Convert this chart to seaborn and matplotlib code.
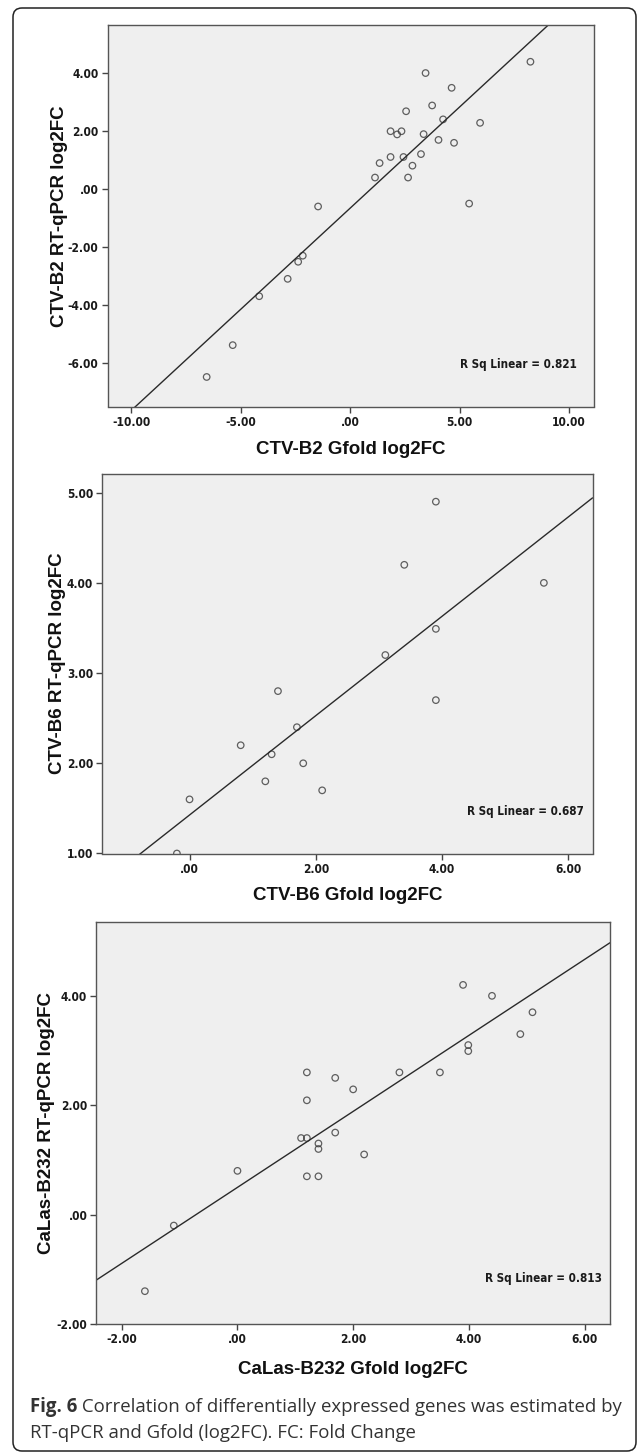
import numpy as np
import pandas as pd
import matplotlib
matplotlib.use("Agg")
import matplotlib.pyplot as plt
import seaborn as sns
from matplotlib.ticker import FuncFormatter, FixedLocator
from matplotlib.patches import FancyBboxPatch
from matplotlib import font_manager

# values
b2_gfold = [8.23, 3.44, 4.63, 3.74, 2.55, 4.24, 5.93, 1.84, 2.34, 2.14, 3.35, 4.03, 4.74, 3.23,
            1.84, 2.43, 1.34, 2.84, 1.13, 2.64, 5.43, -1.47, -2.17, -2.38, -2.86, -4.16, -5.37, -6.56]
b2_qpcr = [4.40, 4.01, 3.50, 2.89, 2.69, 2.41, 2.29, 2.00, 2.00, 1.89, 1.90, 1.70, 1.60, 1.21,
           1.11, 1.11, 0.90, 0.81, 0.40, 0.40, -0.50, -0.60, -2.30, -2.51, -3.10, -3.70, -5.39, -6.49]

b6_gfold = [3.90, 3.40, 5.61, 3.90, 3.10, 1.40, 3.90, 1.70, 0.81, 1.30, 1.80, 1.20, 2.10, 0.00, -0.20]
b6_qpcr = [4.90, 4.20, 4.00, 3.49, 3.20, 2.80, 2.70, 2.40, 2.20, 2.10, 2.00, 1.80, 1.70, 1.60, 1.00]

b232_gfold = [3.90, 4.40, 5.10, 4.89, 3.99, 3.99, 1.20, 2.80, 3.50, 1.69, 2.00, 1.20, 1.69, 1.10,
              1.20, 1.40, 1.40, 2.19, 1.20, 1.40, 0.00, -1.10, -1.60]
b232_qpcr = [4.20, 4.00, 3.70, 3.30, 3.10, 2.99, 2.60, 2.60, 2.60, 2.50, 2.29, 2.09, 1.50, 1.40,
             1.40, 1.30, 1.20, 1.10, 0.70, 0.70, 0.80, -0.20, -1.40]

x_labels = ["CTV-B2 Gfold log2FC", "CTV-B6 Gfold log2FC", "CaLas-B232 Gfold log2FC"]
y_labels = ["CTV-B2 RT-qPCR log2FC", "CTV-B6 RT-qPCR log2FC", "CaLas-B232 RT-qPCR log2FC"]
r2_labels = ["R Sq Linear = 0.821", "R Sq Linear = 0.687", "R Sq Linear = 0.813"]
x_ticks = [[-10, -5, 0, 5, 10], [0, 2, 4, 6], [-2, 0, 2, 4, 6]]
y_ticks = [[-6, -4, -2, 0, 2, 4], [1, 2, 3, 4, 5], [-2, 0, 2, 4]]
caption_bold = "Fig. 6"
caption_1 = " Correlation of differentially expressed genes was estimated by"
caption_2 = "RT-qPCR and Gfold (log2FC). FC: Fold Change"

sns.set_theme(style="ticks")
plt.rcParams["font.family"] = ["Liberation Sans", "DejaVu Sans"]

# condensed bold face for the tick numbers (SPSS uses Arial Narrow)
cond = [f.fname for f in font_manager.fontManager.ttflist
        if "DejaVuSansCondensed-Bold.ttf" in f.fname]
if cond:
    tick_fp = font_manager.FontProperties(fname=cond[0], size=8.6)
    r2_fp = font_manager.FontProperties(fname=cond[0], size=8.4)
else:
    tick_fp = font_manager.FontProperties(family="Liberation Sans", weight="bold", size=8.4)
    r2_fp = font_manager.FontProperties(family="Liberation Sans", weight="bold", size=8.2)

W, H = 637, 1453
fig = plt.figure(figsize=(W / 100, H / 100), dpi=100)

# axes boxes in pixels: left, top, right, bottom
boxes = [(107.5, 25, 593.7, 406.5), (102, 473.7, 592.5, 853.5), (96.3, 922, 610, 1324)]
xlims = [(-11.09, 11.12), (-1.386, 6.38), (-2.44, 6.44)]
ylims = [(-7.51, 5.67), (1.0, 5.21), (-2.0, 5.35)]
r2_pos = [(0.965, 0.109), (0.983, 0.110), (0.984, 0.114)]
xlab_y = [450, 896, 1369.5]
ylab_x = [60, 58, 47]

panels = [(b2_gfold, b2_qpcr), (b6_gfold, b6_qpcr), (b232_gfold, b232_qpcr)]


def spss_fmt(v, pos=None):
    s = f"{v:.2f}"
    if s.startswith("0."):
        s = s[1:]
    return s


for i, (gx, gy) in enumerate(panels):
    l, t, r, b = boxes[i]
    ax = fig.add_axes([l / W, 1 - b / H, (r - l) / W, (b - t) / H])
    ax.set_facecolor("#efefef")
    ax.set_xlim(*xlims[i])
    ax.set_ylim(*ylims[i])
    df = pd.DataFrame({"x": gx, "y": gy})
    sns.regplot(data=df, x="x", y="y", ax=ax, ci=None, truncate=False,
                scatter_kws=dict(s=22, facecolors="none", edgecolors="#3a3a3a", linewidths=0.9),
                line_kws=dict(color="#2a2a2a", lw=1.0))
    ax.set_xlim(*xlims[i])
    ax.set_ylim(*ylims[i])
    ax.xaxis.set_major_locator(FixedLocator(x_ticks[i]))
    ax.yaxis.set_major_locator(FixedLocator(y_ticks[i]))
    ax.xaxis.set_major_formatter(FuncFormatter(spss_fmt))
    ax.yaxis.set_major_formatter(FuncFormatter(spss_fmt))
    ax.tick_params(length=4.5, width=1.0, color="#444444", pad=2, labelcolor="#1a1a1a")
    for lab in ax.get_xticklabels() + ax.get_yticklabels():
        lab.set_fontproperties(tick_fp)
    for sp in ax.spines.values():
        sp.set_visible(True)
        sp.set_color("#555555")
        sp.set_linewidth(1.0)
    ax.set_xlabel("")
    ax.set_ylabel("")
    ax.text(r2_pos[i][0], r2_pos[i][1], r2_labels[i], transform=ax.transAxes,
            ha="right", va="center", fontproperties=r2_fp, color="#1a1a1a")
    fig.text((l + r) / 2 / W, 1 - xlab_y[i] / H, x_labels[i], ha="center", va="center",
             fontsize=13.5, fontweight="bold", color="#111111")
    fig.text(ylab_x[i] / W, 1 - (t + b) / 2 / H, y_labels[i], ha="center", va="center",
             rotation=90, fontsize=13.5, fontweight="bold", color="#111111")

# rounded frame around the figure
frame = FancyBboxPatch((0.13, 0.02), 6.23, 14.43, boxstyle="round,pad=0,rounding_size=0.09",
                       transform=fig.dpi_scale_trans, fill=False, edgecolor="#222222", lw=1.1)
fig.patches.append(frame)

cap_font = ["Open Sans", "DejaVu Sans"]
cap_size = 13.4
t1 = fig.text(30 / W, 1 - 1407 / H, caption_bold, ha="left", va="center", fontsize=cap_size,
              fontweight="bold", family=cap_font, color="#333333")
fig.canvas.draw()
ext = t1.get_window_extent()
fig.text(ext.x1 / W, 1 - 1407 / H, caption_1, ha="left", va="center", fontsize=cap_size,
         family=cap_font, color="#333333")
fig.text(30 / W, 1 - 1433 / H, caption_2, ha="left", va="center", fontsize=cap_size,
         family=cap_font, color="#333333")

fig.savefig("out.png", dpi=100, facecolor="white")
